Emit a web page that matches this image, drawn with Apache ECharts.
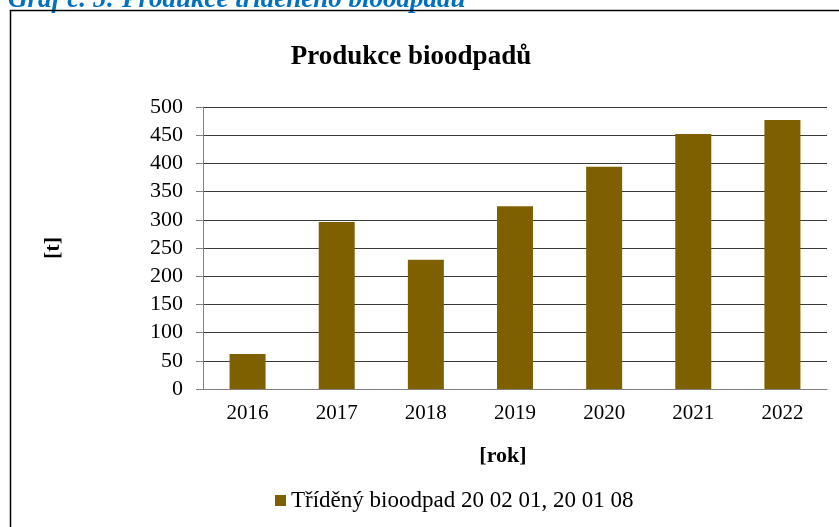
<!DOCTYPE html>
<html>
<head>
<meta charset="utf-8">
<script src="https://cdn.jsdelivr.net/npm/echarts@6/dist/echarts.min.js"></script>
<style>
  html, body { margin: 0; padding: 0; background: #fff; }
  #chart { width: 839px; height: 527px; }
</style>
</head>
<body>
<div id="chart"></div>
<script>
const years = ['2016', '2017', '2018', '2019', '2020', '2021', '2022']
const bioWaste = [62, 296, 229, 324, 394, 452, 477]
const seriesName = 'Tříděný bioodpad 20 02 01, 20 01 08'

const font = '"Liberation Serif", "DejaVu Serif", serif'
const chart = echarts.init(document.getElementById('chart'))

chart.setOption({
    backgroundColor: '#fff',
    animation: false,
    title: {
        text: 'Produkce bioodpadů',
        left: 406,
        top: 39,
        textAlign: 'center',
        textStyle: { fontFamily: font, fontSize: 27, fontWeight: 'bold', color: '#000' },
    },
    graphic: [
        {
            type: 'text',
            left: 8,
            top: -13,
            style: {
                text: 'Graf č. 5: Produkce tříděného bioodpadu',
                font: 'italic bold 27px ' + font,
                fill: '#0070C0',
            },
        },
        {
            type: 'rect',
            shape: { x: 10.5, y: 10.5, width: 840, height: 530 },
            style: { fill: 'none', stroke: '#000', lineWidth: 1.5 },
        },
    ],
    legend: {
        top: 484,
        left: 270,
        itemWidth: 11,
        itemHeight: 11,
        itemGap: 6,
        textStyle: { fontFamily: font, fontSize: 23, color: '#000' },
        data: [{ name: seriesName, icon: 'rect' }],
    },
    grid: { left: 203, right: 12, top: 107, bottom: 138 },
    xAxis: {
        type: 'category',
        data: years,
        name: '[rok]',
        nameLocation: 'middle',
        nameGap: 56,
        nameTextStyle: {
            fontFamily: font, fontSize: 22, fontWeight: 'bold', color: '#000',
            padding: [0, 24, 0, 0],
        },
        axisLine: { lineStyle: { color: '#808080', width: 1 } },
        axisTick: { length: 6, lineStyle: { color: '#808080' } },
        axisLabel: { fontFamily: font, fontSize: 21, color: '#000', margin: 14 },
    },
    yAxis: {
        type: 'value',
        min: 0,
        max: 500,
        interval: 50,
        name: '[t]',
        nameLocation: 'middle',
        nameRotate: 90,
        nameGap: 139,
        nameTextStyle: { fontFamily: font, fontSize: 22, fontWeight: 'bold', color: '#000' },
        axisLine: { show: true, lineStyle: { color: '#808080', width: 1 } },
        axisTick: { show: true, inside: false, length: 7, lineStyle: { color: '#808080' } },
        axisLabel: { fontFamily: font, fontSize: 22, color: '#000', margin: 20 },
        splitLine: { lineStyle: { color: '#3a3a3a', width: 1 } },
    },
    series: [
        {
            name: seriesName,
            type: 'bar',
            data: bioWaste,
            barWidth: 36,
            itemStyle: { color: '#7F6000' },
        },
    ],
})
</script>
</body>
</html>
